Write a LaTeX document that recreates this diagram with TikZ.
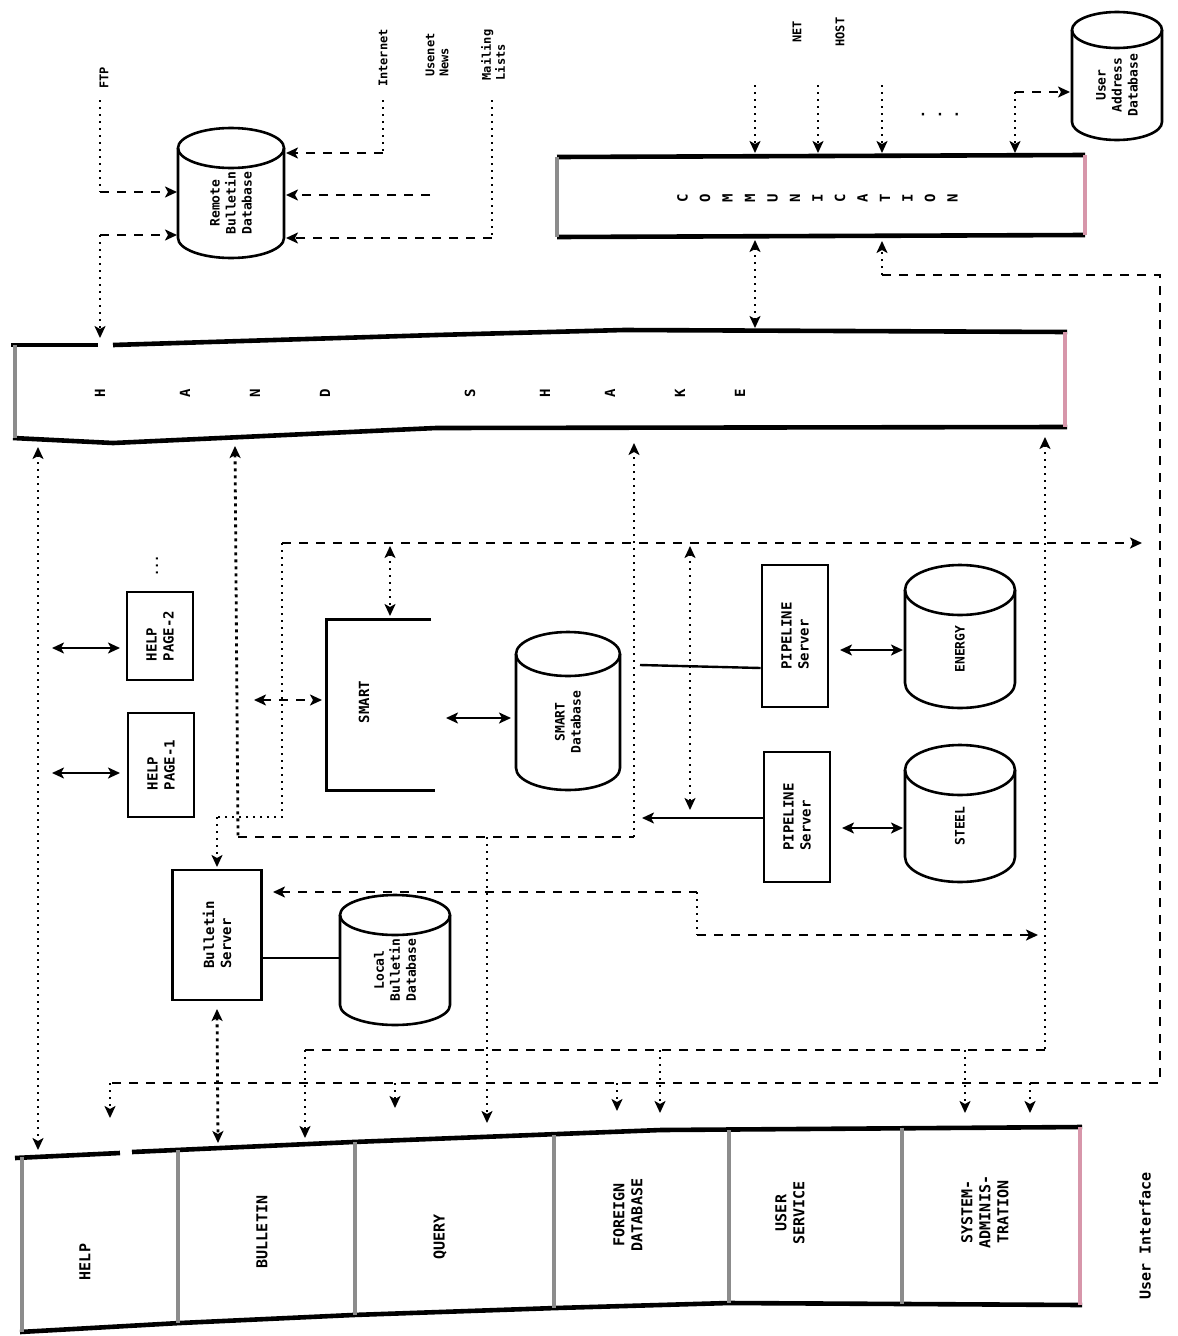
\documentclass[tikz,border=0pt]{standalone}
\usepackage{fontspec}
\setmonofont{DejaVu Sans Mono}
\usetikzlibrary{arrows.meta}
\definecolor{edgegray}{gray}{0.55}
\definecolor{edgepink}{RGB}{215,150,170}
\newcommand{\mycyl}[7]{%
  \draw[cyl] ({#2-#5},{#3+#6}) -- ({#2-#5},{#4-#6}) arc[start angle=180,end angle=360,x radius=#5pt,y radius=#6pt] -- ({#2+#5},{#3+#6});
  \draw[cyl] (#2,{#3+#6}) ellipse[x radius=#5pt,y radius=#6pt];
  \node[cyltext] (#1) at (#2,{(#3+#4)/2+#6/2}) {#7};
}
\tikzset{
  dotl/.style={line width=2.1pt, dash pattern=on 2pt off 5pt},
  dotb/.style={line width=2.8pt, dash pattern=on 3pt off 4pt},
  dashl/.style={line width=2.3pt, dash pattern=on 9pt off 8pt},
  solidl/.style={line width=2.4pt},
  boxs/.style={draw, line width=2.7pt, inner sep=0pt},
  cyl/.style={line width=2.6pt},
  barline/.style={line width=4.6pt},
  edgeg/.style={line width=3.8pt, draw=edgegray},
  edgep/.style={line width=3.8pt, draw=edgepink},
  lab/.style={rotate=90, font=\ttfamily\bfseries\fontsize{12}{14}\selectfont, align=left},
  boxtext/.style={rotate=90, font=\ttfamily\bfseries\fontsize{14}{17}\selectfont, align=left},
  cyltext/.style={rotate=90, font=\ttfamily\bfseries\fontsize{13}{16}\selectfont, align=center},
  tabtext/.style={rotate=90, font=\ttfamily\bfseries\fontsize{15}{18}\selectfont, align=center},
  letter/.style={rotate=90, font=\ttfamily\bfseries\fontsize{14}{16}\selectfont},
}
\begin{document}
\begin{tikzpicture}[x=1pt,y=-1pt,>={Stealth[length=12pt,width=11pt,inset=3pt]}]
\useasboundingbox (0,0) rectangle (1178,1336);
\fill[white] (0,0) rectangle (1178,1336);

% ---------- top-left database ----------
\mycyl{ctl}{231}{128}{258}{53}{20}{Remote\\Bulletin\\Database}
\node[lab] (lftp) at (104,78) {FTP};
\node[lab] (lsrc1) at (383,58) {Internet};
\node[lab] (lsrc2) at (437,55) {Usenet\\News};
\node[lab] (lsrc3) at (493,55) {Mailing\\Lists};

\coordinate (a1) at (100,100); \coordinate (a1k) at (100,192); \coordinate (a1e) at (177,192);
\draw[dotl] (a1) -- (a1k); \draw[dashl,->] (a1k) -- (a1e);
\coordinate (a2k) at (100,235); \coordinate (a2e) at (177,235); \coordinate (a2b) at (100,338);
\draw[dotl,->] (a2k) -- (a2b); \draw[dashl,->] (a2k) -- (a2e);
\coordinate (b1) at (383,100); \coordinate (b1k) at (383,153); \coordinate (b1e) at (286,153);
\draw[dotl] (b1) -- (b1k); \draw[dashl,->] (b1k) -- (b1e);
\coordinate (b2k) at (430,195); \coordinate (b2e) at (286,195);
\draw[dashl,->] (b2k) -- (b2e);
\coordinate (b3) at (492,100); \coordinate (b3k) at (492,238); \coordinate (b3e) at (286,238);
\draw[dotl] (b3) -- (b3k); \draw[dashl,->] (b3k) -- (b3e);

% ---------- COMMUNICATION bar ----------
\draw[barline] (557,157) -- (1085,155);
\draw[barline] (557,237) -- (1085,235);
\draw[edgeg] (557,157) -- (557,237);
\draw[edgep] (1085,155) -- (1085,235);
\foreach \l [count=\i] in {C,O,M,M,U,N,I,C,A,T,I,O,N}
  \node[letter] (cm\i) at ({660+\i*22.5},198) {\l};

\mycyl{ctr}{1117}{12}{140}{45}{18}{User\\Address\\Database}
\node[lab] (lnet) at (797,32) {NET};
\node[lab] (lhost) at (840,32) {HOST};
\node[font=\ttfamily\bfseries\fontsize{14}{16}\selectfont] (cdots) at (940,116) {· · ·};
\foreach \x [count=\i] in {755,818,882}{
  \coordinate (c\i s) at (\x,85); \coordinate (c\i e) at (\x,153);
  \draw[dotl,->] (c\i s) -- (c\i e);
}
\coordinate (c4k) at (1015,92); \coordinate (c4e) at (1015,153); \coordinate (c4d) at (1070,92);
\draw[dotl,->] (c4k) -- (c4e); \draw[dashl,->] (c4k) -- (c4d);

% ---------- HANDSHAKE bar ----------
\draw[barline] (11,345) -- (98,345);
\draw[barline] (113,345) -- (436,335) -- (624,330) -- (1067,332);
\draw[barline] (13,438) -- (113,443) -- (436,428) -- (1067,427);
\draw[edgeg] (15,345) -- (15,438);
\draw[edgep] (1065,332) -- (1065,427);
\foreach \x/\l [count=\i] in {100/H,185/A,255/N,325/D,470/S,545/H,610/A,680/K,740/E}
  \node[letter] (hs\i) at (\x,393) {\l};

\coordinate (d1) at (755,240); \coordinate (d2) at (755,328);
\draw[dotl,<->] (d1) -- (d2);
\coordinate (e0) at (882,241); \coordinate (e1) at (882,275); \coordinate (e2) at (1160,275);
\coordinate (e3) at (1160,1083); \coordinate (e4) at (110,1083); \coordinate (e5) at (110,1118);
\draw[dotl,->] (e1) -- (e0);
\draw[dashl] (e1) -- (e2) -- (e3) -- (e4);
\draw[dotl,->] (e4) -- (e5);

% ---------- left column ----------
\coordinate (h1) at (38,447); \coordinate (h2) at (38,1150);
\draw[dotl,<->] (h1) -- (h2);

\node[boxs, minimum width=66pt, minimum height=88pt] (hp2) at (160,636) {};
\node[boxtext] (hp2t) at (hp2) {HELP\\PAGE-2};
\node[boxs, minimum width=66pt, minimum height=104pt] (hp1) at (161,765) {};
\node[boxtext] (hp1t) at (hp1) {HELP\\PAGE-1};
\node[lab] (hpdots) at (157,566) {...};
\coordinate (hp2a) at (52,648); \coordinate (hp2b) at (120,648);
\draw[solidl,<->] (hp2a) -- (hp2b);
\coordinate (hp1a) at (52,773); \coordinate (hp1b) at (120,773);
\draw[solidl,<->] (hp1a) -- (hp1b);

% bus through x=235 / 634
\coordinate (f1) at (235,446); \coordinate (f2) at (238,837); \coordinate (f3) at (634,837); \coordinate (f4) at (634,443);
\draw[dotb,<-] (f1) -- (f2);
\draw[dashl] (f2) -- (f3);
\draw[dotl,->] (f3) -- (f4);
\coordinate (f5) at (487,837); \coordinate (f6) at (487,1123);
\draw[dotl,->] (f5) -- (f6);

% bus y=543
\coordinate (g1) at (282,543); \coordinate (g2) at (1142,543);
\draw[dashl,->] (g1) -- (g2);
\coordinate (g3) at (282,817); \coordinate (g4) at (217,817); \coordinate (g5) at (217,867);
\draw[dotl] (g1) -- (g3) -- (g4);
\draw[dotl,->] (g4) -- (g5);

% SMART
\node[minimum width=104pt, minimum height=170pt, inner sep=0pt] (smart) at (379,705) {};
\draw[line width=2.7pt] (smart.north east) -- (smart.north west) -- (smart.south west) -- ([xshift=4pt]smart.south east);
\node[boxtext] (smartt) at (364,702) {SMART};
\coordinate (s1) at (390,546); \coordinate (s2) at (390,616);
\draw[dotl,<->] (s1) -- (s2);
\coordinate (s3) at (254,700); \coordinate (s4) at (322,700);
\draw[dashl,<->] (s3) -- (s4);

\mycyl{sdb}{568}{632}{790}{52}{22}{SMART\\Database}
\coordinate (s5) at (446,718); \coordinate (s6) at (511,718);
\draw[solidl,<->] (s5) -- (s6);

% pipelines
\node[boxs, minimum width=66pt, minimum height=142pt] (pp1) at (795,636) {};
\node[boxtext] (pp1t) at (pp1) {PIPELINE\\Server};
\node[boxs, minimum width=66pt, minimum height=130pt] (pp2) at (797,817) {};
\node[boxtext] (pp2t) at (pp2) {PIPELINE\\Server};
\coordinate (p1a) at (640,665); \coordinate (p1b) at (pp1.west |- 0,668);
\draw[solidl] (p1a) -- (p1b);
\coordinate (p2a) at (642,818); \coordinate (p2b) at (pp2.west |- 0,818);
\draw[solidl,<-] (p2a) -- (p2b);
\coordinate (q1) at (690,546); \coordinate (q2) at (690,810);
\draw[dotl,<->] (q1) -- (q2);

\mycyl{energy}{960}{565}{708}{55}{25}{ENERGY}
\mycyl{steel}{960}{745}{882}{55}{25}{STEEL}
\coordinate (r1) at (840,650); \coordinate (r2) at (903,650);
\draw[solidl,<->] (r1) -- (r2);
\coordinate (r3) at (842,828); \coordinate (r4) at (903,828);
\draw[solidl,<->] (r3) -- (r4);

% bulletin
\node[boxs, minimum width=89pt, minimum height=130pt] (bs) at (217,935) {};
\node[boxtext] (bst) at (bs) {Bulletin\\Server};
\mycyl{ldb}{395}{895}{1025}{55}{20}{Local\\Bulletin\\Database}
\coordinate (u1) at (bs.east |- 0,958); \coordinate (u2) at (340,958);
\draw[solidl] (u1) -- (u2);
\coordinate (v1) at (273,892); \coordinate (v2) at (697,892); \coordinate (v3) at (697,935); \coordinate (v4) at (1038,935);
\draw[dashl,<-] (v1) -- (v2);
\draw[dotl] (v2) -- (v3);
\draw[dashl,->] (v3) -- (v4);
\coordinate (w1) at (217,1009); \coordinate (w2) at (218,1143);
\draw[dotb,<->] (w1) -- (w2);

% x=1045 line
\coordinate (x1) at (1045,437); \coordinate (x2) at (1045,1050); \coordinate (x3) at (305,1050); \coordinate (x4) at (305,1138);
\draw[dotl,<-] (x1) -- (x2);
\draw[dashl] (x2) -- (x3);
\draw[dotl,->] (x3) -- (x4);
\foreach \x/\t [count=\i] in {660/1113,965/1113}{
  \coordinate (y\i a) at (\x,1050); \coordinate (y\i b) at (\x,\t);
  \draw[dotl,->] (y\i a) -- (y\i b);
}
\foreach \x/\t [count=\i] in {395/1108,617/1111,1030/1113}{
  \coordinate (z\i a) at (\x,1083); \coordinate (z\i b) at (\x,\t);
  \draw[dotl,->] (z\i a) -- (z\i b);
}

% ---------- user interface bar ----------
\draw[barline] (15,1158) -- (120,1153);
\draw[barline] (132,1152) -- (353,1142) -- (661,1130) -- (1082,1127);
\draw[barline] (20,1332) -- (180,1323) -- (353,1315) -- (556,1308) -- (729,1303) -- (1082,1305);
\foreach \x/\t/\b in {22/1157/1332,178/1150/1323,355/1142/1315,554/1135/1308,729/1130/1303,902/1128/1304}
  \draw[edgeg] (\x,\t) -- (\x,\b);
\draw[edgep] (1080,1127) -- (1080,1305);
\node[tabtext] (thelp) at (85,1262) {HELP};
\node[tabtext] (tbul) at (262,1232) {BULLETIN};
\node[tabtext] (tqry) at (440,1237) {QUERY};
\node[tabtext] (tfor) at (628,1215) {FOREIGN\\DATABASE};
\node[tabtext] (tuser) at (790,1213) {USER\\SERVICE};
\node[tabtext] (tsys) at (985,1212) {SYSTEM-\\ADMINIS-\\TRATION};
\node[tabtext] (tui) at (1145,1236) {User Interface};
\end{tikzpicture}
\end{document}
